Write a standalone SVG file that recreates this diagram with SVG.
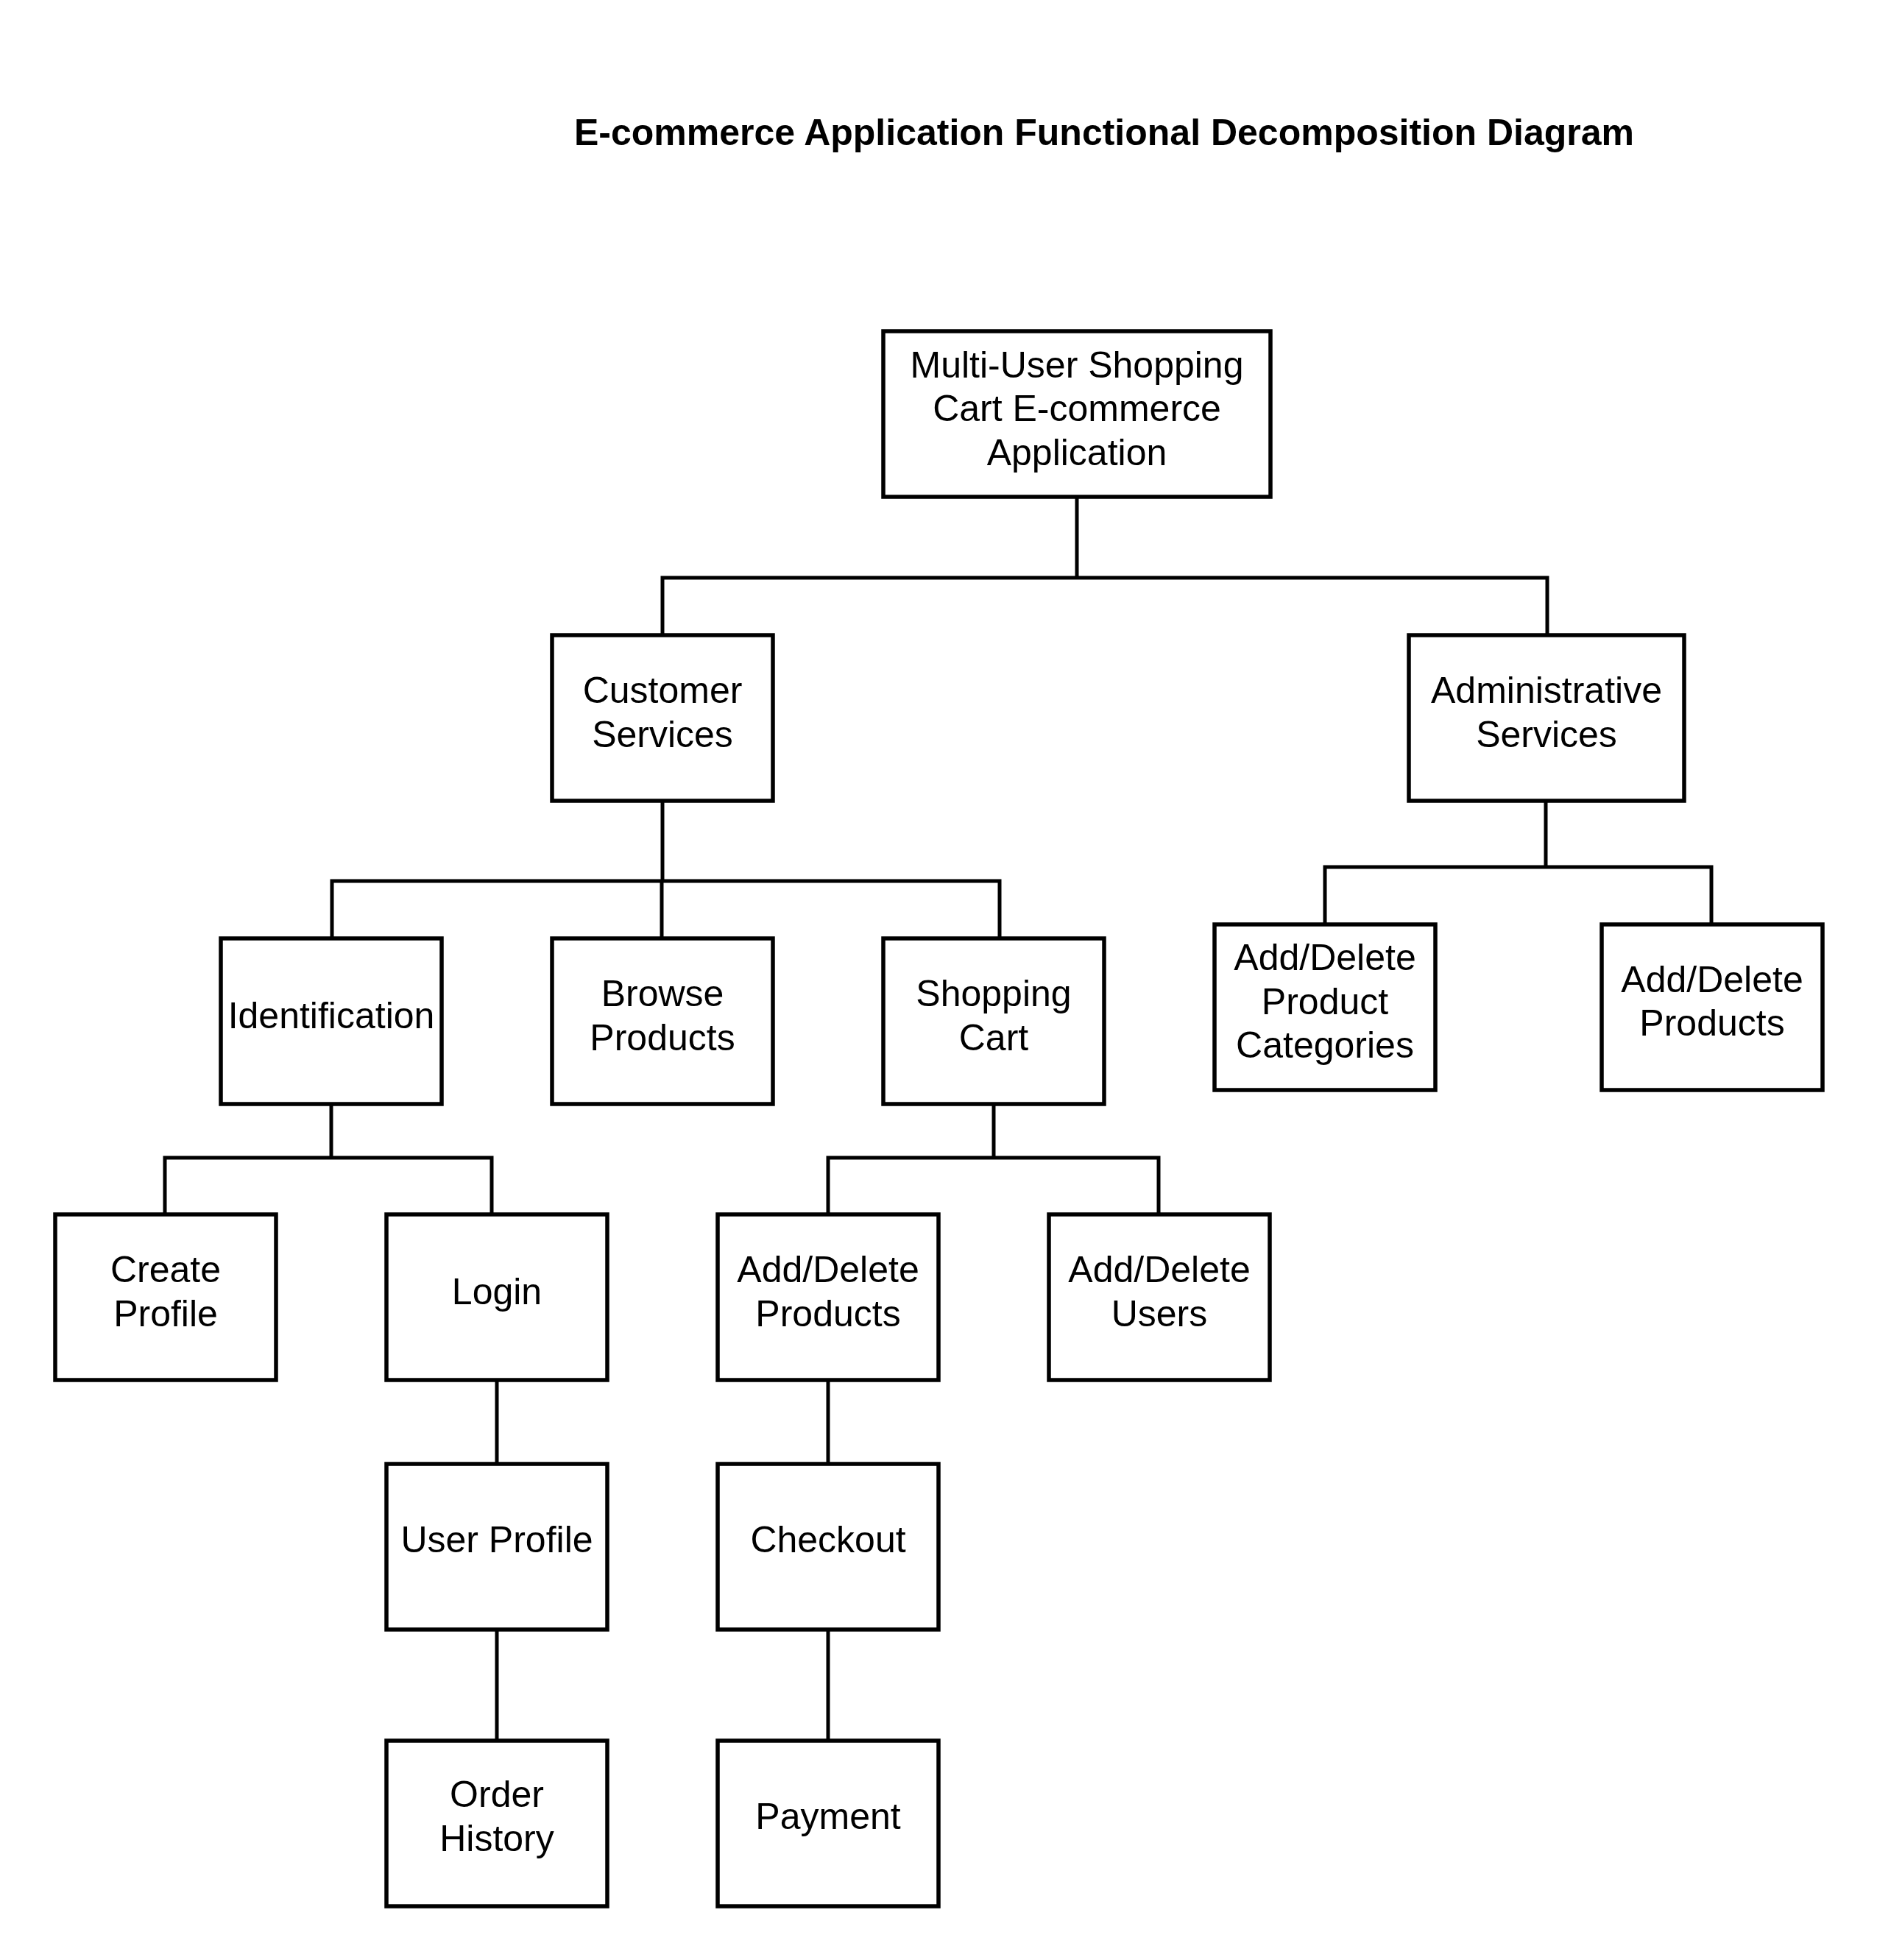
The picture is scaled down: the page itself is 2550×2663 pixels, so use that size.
<svg xmlns="http://www.w3.org/2000/svg" width="2550" height="2663" viewBox="0 0 2550 2663">
<style>
.box{fill:#fff;stroke:#000;stroke-width:5.5}
.lbl{font-family:"Liberation Sans",Arial,sans-serif;font-size:50px;fill:#000;text-anchor:middle}
.title{font-family:"Liberation Sans",Arial,sans-serif;font-size:50px;font-weight:bold;fill:#000;text-anchor:middle}
.conn{fill:none;stroke:#000;stroke-width:5;stroke-linejoin:miter}
</style>
<rect width="2550" height="2663" fill="#fff"/>
<text class="title" x="1500" y="197">E-commerce Application Functional Decomposition Diagram</text>
<g id="connectors">
<path class="conn" d="M1463 675V785"/>
<path class="conn" d="M900 864V785H2102V864"/>
<path class="conn" d="M900 1088V1197"/>
<path class="conn" d="M451 1275V1197H1358V1275"/>
<path class="conn" d="M899 1197V1275"/>
<path class="conn" d="M2100 1088V1178"/>
<path class="conn" d="M1800 1256V1178H2325V1256"/>
<path class="conn" d="M450 1500V1573"/>
<path class="conn" d="M224 1650V1573H668V1650"/>
<path class="conn" d="M1350 1500V1573"/>
<path class="conn" d="M1125 1650V1573H1574V1650"/>
<path class="conn" d="M675 1875V1989"/>
<path class="conn" d="M675 2214V2365"/>
<path class="conn" d="M1125 1875V1989"/>
<path class="conn" d="M1125 2214V2365"/>
</g>
<g id="root"><rect class="box" x="1200" y="450" width="526" height="225"/>
<text class="lbl" x="1463" y="512.5">Multi-User Shopping</text><text class="lbl" x="1463" y="572">Cart E-commerce</text><text class="lbl" x="1463" y="631.5">Application</text></g>
<g id="customer-services"><rect class="box" x="750" y="863" width="300" height="225"/>
<text class="lbl" x="900" y="955">Customer</text><text class="lbl" x="900" y="1014.5">Services</text></g>
<g id="administrative-services"><rect class="box" x="1914" y="863" width="374" height="225"/>
<text class="lbl" x="2101" y="955">Administrative</text><text class="lbl" x="2101" y="1014.5">Services</text></g>
<g id="identification"><rect class="box" x="300" y="1275" width="300" height="225"/>
<text class="lbl" x="450" y="1396.5">Identification</text></g>
<g id="browse-products"><rect class="box" x="750" y="1275" width="300" height="225"/>
<text class="lbl" x="900" y="1367">Browse</text><text class="lbl" x="900" y="1426.5">Products</text></g>
<g id="shopping-cart"><rect class="box" x="1200" y="1275" width="300" height="225"/>
<text class="lbl" x="1350" y="1367">Shopping</text><text class="lbl" x="1350" y="1426.5">Cart</text></g>
<g id="add-delete-product-categories"><rect class="box" x="1650" y="1256" width="300" height="225"/>
<text class="lbl" x="1800" y="1318">Add/Delete</text><text class="lbl" x="1800" y="1377.5">Product</text><text class="lbl" x="1800" y="1437">Categories</text></g>
<g id="admin-add-delete-products"><rect class="box" x="2176" y="1256" width="300" height="225"/>
<text class="lbl" x="2326" y="1347.5">Add/Delete</text><text class="lbl" x="2326" y="1407">Products</text></g>
<g id="create-profile"><rect class="box" x="75" y="1650" width="300" height="225"/>
<text class="lbl" x="225" y="1742">Create</text><text class="lbl" x="225" y="1801.5">Profile</text></g>
<g id="login"><rect class="box" x="525" y="1650" width="300" height="225"/>
<text class="lbl" x="675" y="1771.5">Login</text></g>
<g id="cart-add-delete-products"><rect class="box" x="975" y="1650" width="300" height="225"/>
<text class="lbl" x="1125" y="1742">Add/Delete</text><text class="lbl" x="1125" y="1801.5">Products</text></g>
<g id="add-delete-users"><rect class="box" x="1425" y="1650" width="300" height="225"/>
<text class="lbl" x="1575" y="1742">Add/Delete</text><text class="lbl" x="1575" y="1801.5">Users</text></g>
<g id="user-profile"><rect class="box" x="525" y="1989" width="300" height="225"/>
<text class="lbl" x="675" y="2109">User Profile</text></g>
<g id="checkout"><rect class="box" x="975" y="1989" width="300" height="225"/>
<text class="lbl" x="1125" y="2109">Checkout</text></g>
<g id="order-history"><rect class="box" x="525" y="2365" width="300" height="225"/>
<text class="lbl" x="675" y="2455">Order</text><text class="lbl" x="675" y="2514.5">History</text></g>
<g id="payment"><rect class="box" x="975" y="2365" width="300" height="225"/>
<text class="lbl" x="1125" y="2484.5">Payment</text></g>
</svg>
